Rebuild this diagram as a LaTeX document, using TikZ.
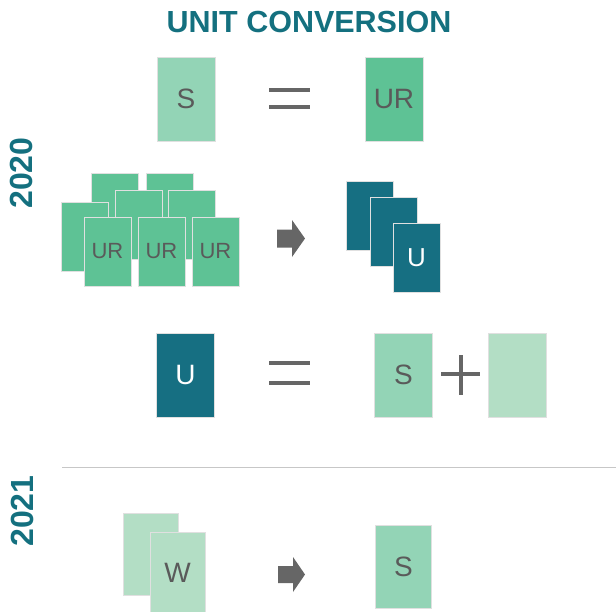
\documentclass[tikz,border=0pt]{standalone}
\usepackage{fontspec}
\setmainfont{Liberation Sans}
\usepackage{tikz}

\definecolor{unitteal}{HTML}{14707F}
\definecolor{unitblue}{HTML}{166F82}
\definecolor{urgreen}{HTML}{5EC295}
\definecolor{sgreen}{HTML}{93D4B6}
\definecolor{wgreen}{HTML}{B3DEC5}
\definecolor{cardtext}{HTML}{5A5A5A}
\definecolor{symbolgray}{HTML}{666666}

\tikzset{
	card/.style={draw=black!12, line width=1pt, inner sep=0pt, minimum width=58pt,
		minimum height=84pt, text=cardtext, font=\fontsize{28}{28}\selectfont},
	minicard/.style={card, minimum width=47pt, minimum height=69pt,
		font=\fontsize{22}{22}\selectfont},
	symbol/.style={symbolgray, line width=4pt},
	year/.style={rotate=90, text=unitteal, font=\bfseries\fontsize{32}{32}\selectfont}
}

\begin{document}
\begin{tikzpicture}[x=1pt, y=-1pt]
	\useasboundingbox (0,0) rectangle (616,611);

	% Title
	\node (title) [text=unitteal, font=\bfseries\fontsize{30.5}{30.5}\selectfont] at (309, 22) {UNIT CONVERSION};

	% Years
	\node (y2020) [year] at (21.5, 173) {2020};
	\node (y2021) [year] at (22.5, 511) {2021};

	% S = UR
	\node (s1) [card, fill=sgreen] at (186, 99) {S};
	\draw[symbol] (269, 90) -- (310, 90);
	\draw[symbol] (269, 107) -- (310, 107);
	\node (ur1) [card, fill=urgreen] at (394, 99) {UR};

	% Pile of UR -> pile of U
	\foreach \x/\y [count=\i] in {115/207.5, 169.5/207.5, 138.5/224.5, 192/224.5, 84.5/236.5}
		\node (urback\i) [minicard, fill=urgreen] at (\x, \y) {};
	\foreach \x [count=\i] in {107.5, 161.5, 215.5}
		\node (urfront\i) [minicard, fill=urgreen] at (\x, 251.5) {UR};
	\fill[symbolgray, shift={(291, 238.5)}] (-14,-9) -- (1,-9) -- (1,-18.5) -- (14,0) -- (1,18.5) -- (1,9) -- (-14,9) -- cycle;
	\node (u1) [minicard, fill=unitblue] at (370, 216) {};
	\node (u2) [minicard, fill=unitblue] at (393.5, 232) {};
	\node (u3) [minicard, fill=unitblue, text=white, font=\fontsize{26}{26}\selectfont] at (416.5, 257.5) {U};

	% U = S + ?
	\node (u4) [card, fill=unitblue, text=white] at (185.5, 375) {U};
	\draw[symbol] (269, 363) -- (310, 363);
	\draw[symbol] (269, 383) -- (310, 383);
	\node (s2) [card, fill=sgreen] at (403.5, 375) {S};
	\draw[symbol] (441, 374) -- (480, 374);
	\draw[symbol] (460.5, 355) -- (460.5, 395);
	\node (rest) [card, fill=wgreen] at (517.5, 375) {};

	% Separator
	\draw[black!22, line width=1pt] (62, 467) -- (616, 467);

	% W -> S
	\node (w1) [card, fill=wgreen, minimum width=55pt, minimum height=82pt] at (150.5, 554) {};
	\node (w2) [card, fill=wgreen, minimum width=55pt, minimum height=82pt] at (177.5, 573) {W};
	\fill[symbolgray, shift={(291.5, 574.5)}] (-13.5,-8.5) -- (1.5,-8.5) -- (1.5,-17.5) -- (13.5,0) -- (1.5,17.5) -- (1.5,8.5) -- (-13.5,8.5) -- cycle;
	\node (s3) [card, fill=sgreen, minimum width=56pt, minimum height=83pt] at (403.5, 566.5) {S};
\end{tikzpicture}
\end{document}
